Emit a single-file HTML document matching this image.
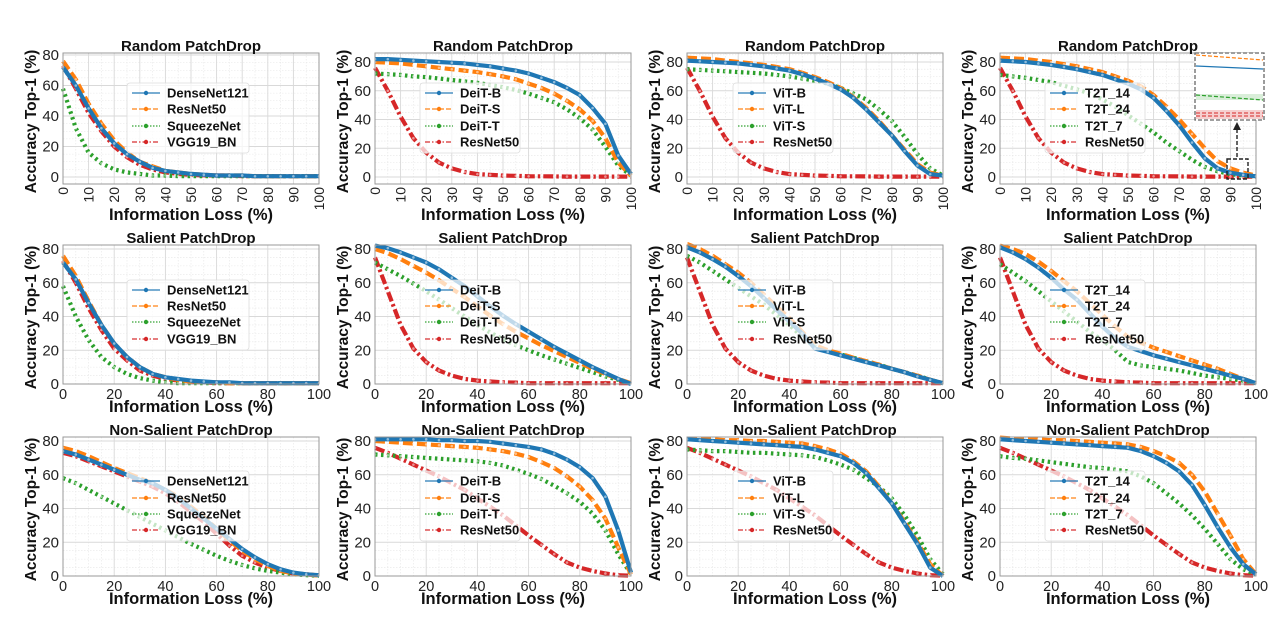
<!DOCTYPE html>
<html><head><meta charset="utf-8">
<style>
html,body{margin:0;padding:0;background:#fff;}
svg{display:block;font-family:"Liberation Sans","DejaVu Sans",sans-serif;}
</style></head>
<body>
<svg id="fig" width="1280" height="619" viewBox="0 0 1280 619" xmlns="http://www.w3.org/2000/svg"></svg>
<script>
const xs = [0,5,10,15,20,25,30,35,40,45,50,55,60,65,70,75,80,85,90,95,100];
const xTicksR1 = [0,10,20,30,40,50,60,70,80,90,100];
const xTicksR23 = [0,20,40,60,80,100];
const yTicks = [0,20,40,60,80];
const titles = ["Random PatchDrop","Salient PatchDrop","Non-Salient PatchDrop"];
const namesC1 = ["DenseNet121","ResNet50","SqueezeNet","VGG19_BN"];
const namesC2 = ["DeiT-B","DeiT-S","DeiT-T","ResNet50"];
const namesC3 = ["ViT-B","ViT-L","ViT-S","ResNet50"];
const namesC4 = ["T2T_14","T2T_24","T2T_7","ResNet50"];

// Random PatchDrop
const r1c1_a = [72,60,45,32,22,15,10,6,4,3,2,1.5,1,1,1,0.5,0.5,0.5,0.5,0.5,0.5];
const r1c1_b = [76,64,48,35,24,16,10,7,4,3,2,1.5,1,1,1,0.5,0.5,0.5,0.5,0.5,0.5];
const r1c1_c = [58,32,16,9,5,3,2,1,1,0.5,0.5,0.5,0.5,0.5,0.5,0.5,0.5,0.5,0.5,0.5,0.5];
const r1c1_d = [73,58,42,30,20,13,8,5,3,2,1.5,1,1,1,0.5,0.5,0.5,0.5,0.5,0.5,0.5];
const resRandom = [76,60,42,27,17,10,6,3.5,2,1.5,1,0.8,0.5,0.5,0.4,0.3,0.3,0.3,0.3,0.3,0.3];
const r1c2_a = [82,82,81.5,81,80.5,80,79.5,79,78,77,75.5,74,72,69,66,62,57,48,37,15,2];
const r1c2_b = [80,79.5,79,78,77,76,75,74,73,71.5,70,68,65,62,58,53,47,39,27,10,1];
const r1c2_c = [72,71.5,71,70,69.5,68.5,67.5,66.5,65.5,64,62.5,60.5,58,55,52,47,41,33,21,8,1];
const r1c3_a = [81,80.5,80,79.5,79,78,77,75.5,74,71.5,68.5,65,61,55,47,38,29,18,8,2,1];
const r1c3_b = [83,82.5,82,81,80,79,78,76.5,75,72.5,69.5,66,62,55.5,48,39,29,19,9,3,1];
const r1c3_c = [75,74.5,74,73.5,73,72.5,72,71,70,68.5,67,65,62,58,54,47,39,28,16,6,1];
const r1c4_a = [81,80.5,80,79,78,76.5,75,73,71,68,65,61,55,46,36,24,13,6,3,1.5,0.5];
const r1c4_b = [83,82.5,82,81,80,78.5,77,75,73,70,67,63,57,49,40,30,20,11,6,3,1];
const r1c4_c = [71,70,69,67.5,66,63.5,61,58,54,49,43,37,31,24,18,12,7,4,2,1,0.5];

// Salient PatchDrop
const r2c1_a = [72,62,48,35,24,16,10,6,4,3,2,1.5,1,1,0.5,0.5,0.5,0.5,0.5,0.5,0.5];
const r2c1_b = [76,64,49,35,24,16,10,6,4,2.5,1.5,1,1,0.5,0.5,0.5,0.5,0.5,0.5,0.5,0.5];
const r2c1_c = [58,40,26,16,10,6,3.5,2,1,0.5,0.5,0.5,0.5,0.5,0.5,0.5,0.5,0.5,0.5,0.5,0.5];
const r2c1_d = [73,60,45,32,21,14,8,5,3,2,1,1,0.5,0.5,0.5,0.5,0.5,0.5,0.5,0.5,0.5];
const resSalient = [75,55,35,21,13,8,5,3,2,1.5,1,0.8,0.5,0.5,0.5,0.5,0.5,0.5,0.5,0.5,0.5];
const r2c2_a = [82,80.5,78,75,72,68,63,58,52,46,40.5,35.5,31,26.5,22,18,14,10,6.5,3,0];
const r2c2_b = [80,77.5,74,70,66,61.5,56.5,51.5,46,40.5,35.5,31,27,23,19.5,16,12.5,9,6,3,0.5];
const r2c2_c = [72,68,64,59.5,55,50,45,40,35,30.5,26.5,23,20,17,14.5,12,9.5,7,4.5,2.5,0.3];
const r2c3_a = [81,78,74,69.5,64,58,51,44,37,30,21,19,17,15,13,11,9,7,4.5,2.5,0.5];
const r2c3_b = [83,80,76,71,66,60,53,46,39,31,23,20,18,15.5,13.5,11.5,9,7,5,2.5,0.5];
const r2c3_c = [76,72,67,62,57,52,47,41,35,28,22,19.5,17.5,15.5,13.5,11.5,9,7,5,2.5,0.5];
const r2c4_a = [81,78,74,69,63,56,50,42,34,27,22,19.5,17,15,13,11,9,7,5,3,0.5];
const r2c4_b = [82,80,77,72.5,67,61,55,48,41,34,28,24.5,21.5,19,16.5,14,11.5,9,6,3,0.5];
const r2c4_c = [71,66,61,55,49,43,37,31,26,20,13,11,10,9,8,6.5,5,4,3,2,0.5];

// Non-Salient PatchDrop
const r3c1_a = [74,72,69,66,63,60,57,55,51,46,40,34,28,22,16,11,7,4,2,1,0.5];
const r3c1_b = [76,74,71,67.5,64,61,58,55,51,47,41,35,28,21,15,10,6,3,1.5,1,0.3];
const r3c1_c = [58,55,51,47,43,39,35,31,27,23,19,15.5,12,9,6.5,4.5,3,2,1,0.5,0.2];
const r3c1_d = [73,71,68,65,62,59,56,53,49,44,38,32,25,18,12,8,5,3,1.5,1,0.3];
const resNonSal = [76,73,69.5,66,62.5,59,55,51,46,41,36,30,24,18.5,13,8,5,3,1.5,0.5,0.2];
const r3c2_a = [81,81,81,81,81,80.5,80.5,80,80,79.5,78.5,77.5,76.5,75,72.5,69,64.5,58,47,27,2];
const r3c2_b = [80,79.5,79,78.5,78,77.5,77,76.5,76,75,74,72.5,70.5,67.5,64,59,53,45,34,17,1];
const r3c2_c = [72,71.5,71,70.5,70,69.5,69,68.5,68,67,65.5,63,60.5,57.5,53.5,49,44,37,27,13,1];
const r3c3_a = [81,80.5,80,79.5,79,78.5,78,77.5,77,76.5,75,73,71,67,61,52,43,31,19,5,0];
const r3c3_b = [81,81,81,80.5,80.5,80,80,79.5,79,78.5,77,75,72.5,68,62,53,43,32,20,7,0];
const r3c3_c = [75,74.5,74,74,73.5,73,73,72.5,72,71.5,70.5,68.5,66,63,58,53,46,36,24,10,1];
const r3c4_a = [81,80.5,80,79.5,79,78.5,78,77.5,77,76.5,76,74,71,67,62,54,42,29,17,7,1];
const r3c4_b = [82,81.5,81,81,80.5,80.5,80,79.5,79,78.5,78,76.5,74,71,67,60,50,37,24,10,1];
const r3c4_c = [71,70,69.5,68.5,67.5,66.5,65.5,64.5,64,63,62,59,55,49,43,36,28,19,10,4,1];

const panelSeries = [
 [[r1c1_a,r1c1_b,r1c1_c,r1c1_d],[r1c2_a,r1c2_b,r1c2_c,resRandom],[r1c3_a,r1c3_b,r1c3_c,resRandom],[r1c4_a,r1c4_b,r1c4_c,resRandom]],
 [[r2c1_a,r2c1_b,r2c1_c,r2c1_d],[r2c2_a,r2c2_b,r2c2_c,resSalient],[r2c3_a,r2c3_b,r2c3_c,resSalient],[r2c4_a,r2c4_b,r2c4_c,resSalient]],
 [[r3c1_a,r3c1_b,r3c1_c,r3c1_d],[r3c2_a,r3c2_b,r3c2_c,resNonSal],[r3c3_a,r3c3_b,r3c3_c,resNonSal],[r3c4_a,r3c4_b,r3c4_c,resNonSal]]
];
const legendNames = [namesC1,namesC2,namesC3,namesC4];

const NS = "http://www.w3.org/2000/svg";
const svg = document.getElementById('fig');
const colors = ["#1f77b4","#ff7f0e","#2ca02c","#d62728"];
const dashes = ["", "10,4", "2.5,3.5", "10,3,2.5,3"];
const colX = [63,375,687,1000];
const plotW = 256;
const rowTop = [53,245,437];
const rowBot = [184,384,576];
const rowZero = [177,384,576];
const legTextX = [167,460,773,1085];
const legRowY = [[93,109,126,142],[290,306,322,339],[481,498,514,530]];

function el(tag, attrs, parent){
  const e = document.createElementNS(NS, tag);
  for (const k in attrs) e.setAttribute(k, attrs[k]);
  (parent||svg).appendChild(e);
  return e;
}
function scaleFor(r,c){
  if (r===0) return c===0 ? 122/80 : 115/80;
  return 135/80;
}

for (let r=0;r<3;r++){
  for (let c=0;c<4;c++){
    const g = el('g',{});
    
    
    const x0 = colX[c], top=rowTop[r], bot=rowBot[r], y0=rowZero[r], k=scaleFor(r,c);
    const X = v => x0 + v/100*plotW;
    const Y = v => y0 - v*k;
    for (let v=0; v<=100; v+=5){
      const ln = el('line',{x1:X(v),x2:X(v),y1:top,y2:bot,stroke:'#e6e6e6','stroke-width':0.6,'stroke-dasharray':'1.5,1.5'},g);
      
      
    }
    for (let v=0; v<=85; v+=5){
      if (Y(v)<top) continue;
      const ln = el('line',{x1:x0,x2:x0+plotW,y1:Y(v),y2:Y(v),stroke:'#e6e6e6','stroke-width':0.6,'stroke-dasharray':'1.5,1.5'},g);
      
      
    }
    const xt = r===0 ? xTicksR1 : xTicksR23;
    xt.forEach(v=>{
      const ln = el('line',{x1:X(v),x2:X(v),y1:top,y2:bot,stroke:'#d9d9d9','stroke-width':0.9},g);
      
      
      let t;
      if (r===0){
        t = el('text',{x:0,y:0,'font-size':14,fill:'#222','text-anchor':'end','dominant-baseline':'central',transform:'translate('+X(v)+','+(bot+3)+') rotate(-90)'},g);
      } else {
        t = el('text',{x:X(v),y:bot+15,'font-size':14.5,fill:'#222','text-anchor':'middle'},g);
      }
      t.textContent = v;
      
      
    });
    yTicks.forEach(v=>{
      const ln = el('line',{x1:x0,x2:x0+plotW,y1:Y(v),y2:Y(v),stroke:'#d9d9d9','stroke-width':0.9},g);
      
      
      const t = el('text',{x:x0-4,y:Y(v)+5,'font-size':15,fill:'#222','text-anchor':'end'},g);
      t.textContent = v;
      
      
    });
    const ser = panelSeries[r][c];
    const order = [3,2,1,0];
    order.forEach(i=>{
      const d = ser[i].map((v,j)=>(j?'L':'M')+X(xs[j]).toFixed(1)+','+Y(v).toFixed(1)).join(' ');
      const p = el('path',{d:d,fill:'none',stroke:colors[i],'stroke-width':4.2,'stroke-dasharray':dashes[i],'stroke-linejoin':'round'},g);
      
      
      ser[i].forEach((v,j)=>{
        const m = el('circle',{cx:X(xs[j]),cy:Y(v),r:1.3,fill:'#fff','fill-opacity':0.5},g);
        
        
      });
    });
    const fr = el('rect',{x:x0,y:top,width:plotW,height:bot-top,fill:'none',stroke:'#999','stroke-width':1},g);
    
    
    const lg = el('g',{},g);
    
    
    const ly = legRowY[r];
    const lx = legTextX[c];
    const boxW = c===0 ? 122 : 100;
    const lb = el('rect',{x:lx-40,y:ly[0]-10,width:boxW,height:ly[3]-ly[0]+21,rx:3,fill:'#fff','fill-opacity':0.72,stroke:'#ddd','stroke-width':0.8},lg);
    
    
    for (let i=0;i<4;i++){
      const e = el('g',{},lg);
      
      
      el('line',{x1:lx-35,x2:lx-7,y1:ly[i],y2:ly[i],stroke:colors[i],'stroke-width':1.5,'stroke-opacity':0.8,'stroke-dasharray':dashes[i]==''?'':(i===1?'5,2':i===2?'1.5,1.5':'5,2,1.5,2')},e);
      el('circle',{cx:lx-21,cy:ly[i],r:2.2,fill:colors[i]},e);
      const t = el('text',{x:lx,y:ly[i]+4.5,'font-size':13,'font-weight':'bold',fill:'#111'},e);
      t.textContent = legendNames[c][i];
    }
    const tt = el('text',{x:x0+plotW/2,y:top-2,'font-size':15,'font-weight':'bold',fill:'#111','text-anchor':'middle'},g);
    tt.textContent = titles[r];
    
    
    const xl = el('text',{x:x0+plotW/2,y:(r===0?220:r===1?412:604),'font-size':16.5,'font-weight':'bold',fill:'#111','text-anchor':'middle'},g);
    xl.textContent = 'Information Loss (%)';
    
    
    const ycy = (top+bot)/2;
    const yl = el('text',{x:0,y:0,'font-size':15.5,'font-weight':'bold',fill:'#111','text-anchor':'middle',transform:'translate('+(x0-27)+','+(ycy+3)+') rotate(-90)'},g);
    yl.textContent = 'Accuracy Top-1 (%)';
    
    
  }
}

const ins = el('g',{});


el('rect',{x:1195,y:53,width:69,height:67,fill:'#fff',stroke:'#666','stroke-width':1.3,'stroke-dasharray':'4,2'},ins);
el('line',{x1:1196,x2:1263,y1:55,y2:60,stroke:'#ff7f0e','stroke-width':1.2,'stroke-dasharray':'4,2'},ins);
el('line',{x1:1196,x2:1263,y1:66,y2:69,stroke:'#1f77b4','stroke-width':1.2},ins);
el('rect',{x:1196,y:94,width:67,height:6,fill:'#2ca02c','fill-opacity':0.18},ins);
el('line',{x1:1196,x2:1263,y1:95,y2:100,stroke:'#2ca02c','stroke-width':1.2,'stroke-dasharray':'4,2'},ins);
el('rect',{x:1196,y:110,width:67,height:9,fill:'#d62728','fill-opacity':0.22},ins);
el('line',{x1:1196,x2:1263,y1:113,y2:113,stroke:'#d62728','stroke-width':1,'stroke-dasharray':'4,2'},ins);
el('line',{x1:1196,x2:1263,y1:116,y2:116,stroke:'#d62728','stroke-width':1,'stroke-dasharray':'4,2'},ins);
const zb = el('rect',{x:1227,y:159,width:21,height:20,fill:'none',stroke:'#222','stroke-width':1.4,'stroke-dasharray':'4,2'},svg);


const ar = el('line',{x1:1237,x2:1237,y1:157,y2:128,stroke:'#222','stroke-width':1.4,'stroke-dasharray':'4,2'},svg);


const ah = el('polygon',{points:'1237,122 1233,130 1241,130',fill:'#222'},svg);


</script>
</body></html>
